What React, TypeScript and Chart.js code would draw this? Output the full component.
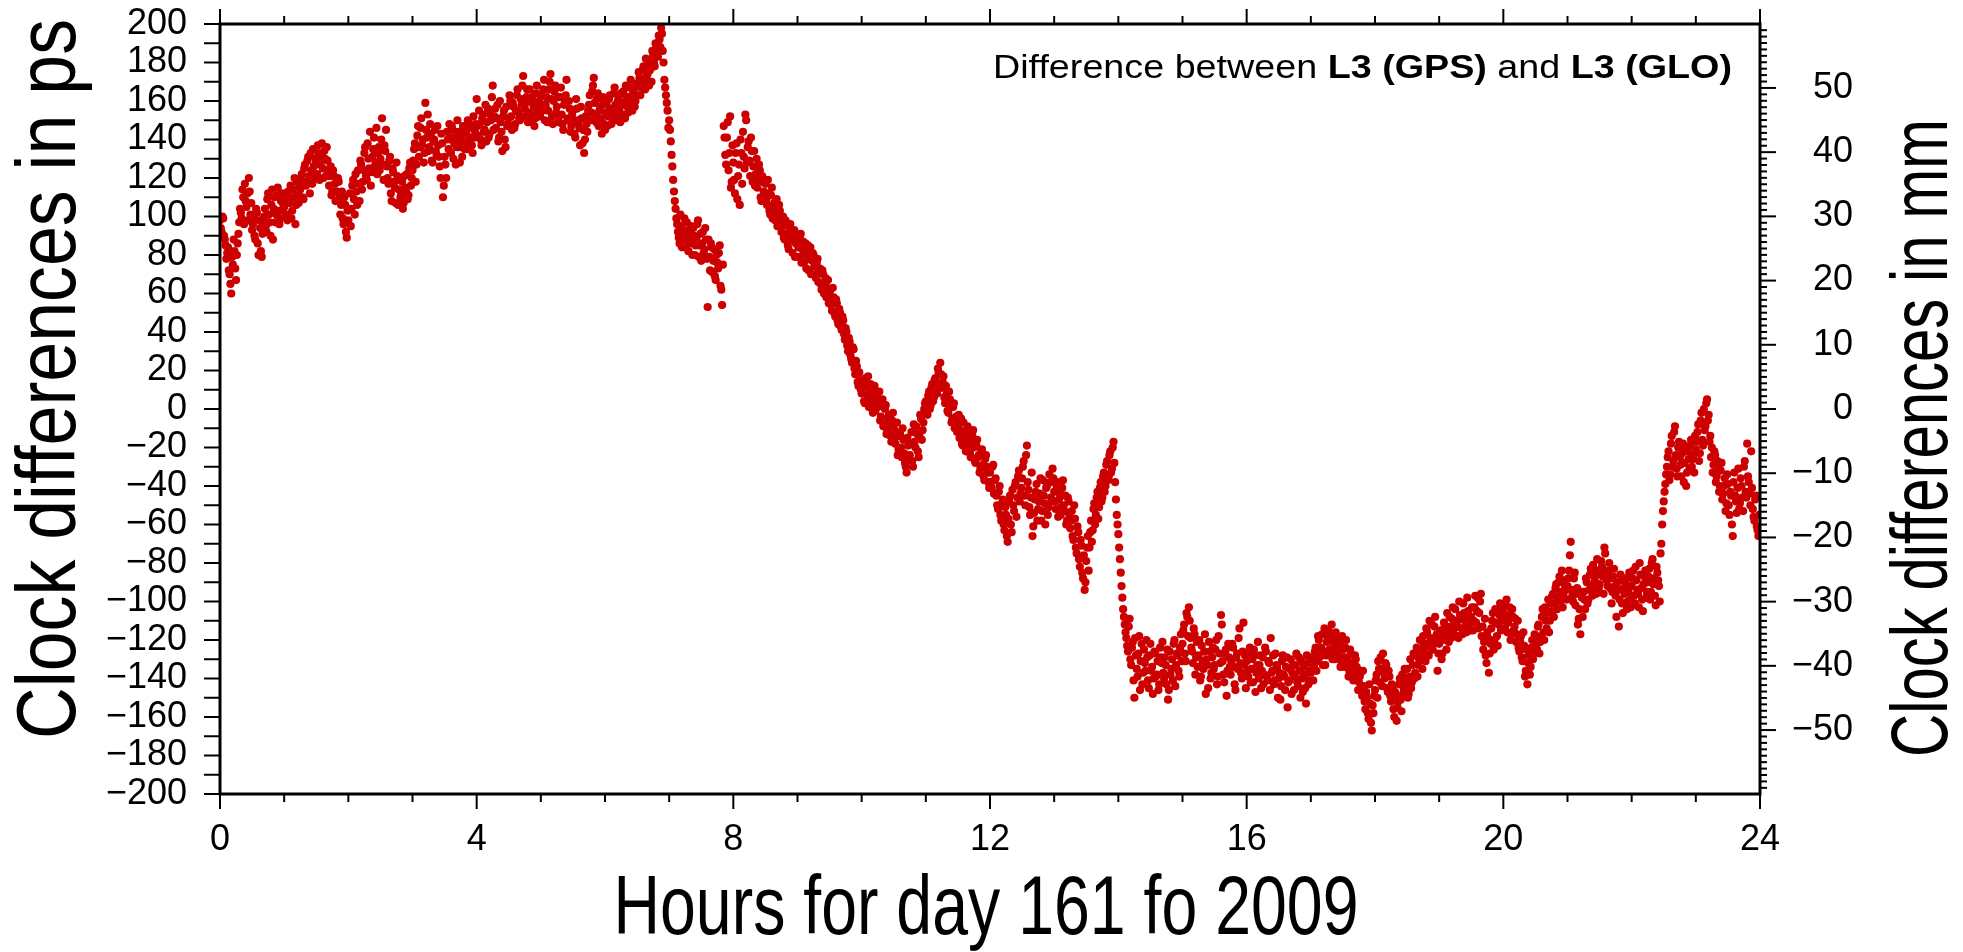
import React, { useEffect, useRef } from 'react';
import { Chart, registerables } from 'chart.js';

Chart.register(...registerables);

// Clock differences (ps). Two interleaved sample sets per hour (A at i/40 h, B at (i+0.5)/40 h).
const hour00 = [98, 92, 99, 88, 78, 84, 70, 60, 75, 82, 67, 86, 97, 102, 114, 96, 108, 112, 120, 101, 93, 99, 88, 102, 80, 94, 79, 97, 104, 92, 112, 97, 106, 88, 110, 101, 115, 96, 108, 103];
const hour01 = [105, 112, 98, 109, 116, 103, 110, 96, 118, 107, 114, 122, 109, 127, 118, 131, 112, 124, 135, 120, 128, 137, 119, 131, 125, 134, 121, 129, 116, 126, 113, 121, 108, 113, 118, 101, 113, 96, 106, 89];
const hour02 = [98, 112, 104, 119, 101, 113, 124, 108, 127, 118, 133, 121, 138, 125, 116, 131, 141, 128, 122, 136, 130, 151, 119, 134, 126, 117, 131, 108, 123, 115, 128, 106, 119, 112, 104, 121, 113, 109, 125, 116];
const hour03 = [124, 135, 118, 142, 131, 146, 137, 128, 159, 141, 134, 148, 129, 139, 145, 132, 137, 126, 143, 110, 131, 120, 140, 148, 133, 145, 138, 127, 150, 136, 142, 131, 146, 139, 135, 149, 141, 137, 152, 144];
const hour04 = [161, 142, 148, 137, 153, 145, 139, 156, 143, 150, 168, 152, 146, 158, 141, 149, 134, 155, 136, 147, 151, 160, 145, 157, 148, 163, 154, 150, 158, 173, 156, 162, 149, 166, 153, 159, 147, 164, 155, 160];
const hour05 = [163, 155, 171, 158, 149, 166, 174, 152, 160, 168, 157, 149, 162, 153, 145, 159, 171, 151, 156, 147, 155, 143, 161, 150, 146, 157, 138, 133, 152, 144, 158, 150, 165, 172, 153, 161, 147, 157, 143, 160];
const hour06 = [145, 158, 152, 163, 148, 155, 167, 150, 160, 156, 164, 153, 159, 168, 157, 162, 171, 155, 166, 160, 168, 175, 163, 170, 178, 166, 173, 181, 176, 170, 184, 178, 188, 183, 192, 198, 186, 171, 163, 155];
const hour07 = [150, 139, 126, 113, 104, 96, 89, 101, 84, 93, 88, 97, 82, 91, 86, 94, 80, 89, 98, 85, 77, 92, 83, 88, 53, 79, 86, 71, 83, 67, 76, 81, 64, 54, 147, 132, 141, 124, 152, 118];
const hour08 = [128, 112, 138, 121, 106, 133, 144, 125, 150, 136, 129, 141, 118, 134, 122, 115, 127, 110, 121, 113, 117, 106, 112, 101, 115, 104, 98, 109, 96, 103, 92, 100, 88, 97, 85, 94, 90, 81, 93, 86];
const hour09 = [88, 79, 91, 83, 76, 86, 81, 72, 84, 77, 80, 70, 76, 66, 73, 62, 70, 64, 58, 67, 60, 54, 63, 50, 57, 46, 52, 43, 48, 39, 42, 33, 37, 28, 24, 31, 18, 22, 12, 15];
const hour10 = [8, 14, 3, 11, 17, 5, 9, -2, 12, 6, 1, 9, -4, 5, -8, 2, -11, -3, -14, -6, -10, -18, -7, -21, -13, -25, -16, -28, -33, -19, -24, -12, -30, -17, -9, -22, -14, -5, -11, 0];
const hour11 = [4, -3, 9, 2, 13, 6, 16, 8, 19, 24, 11, 17, 3, 8, -2, 5, -7, 1, -10, -4, -8, -15, -5, -19, -12, -22, -9, -17, -25, -14, -20, -28, -16, -24, -31, -21, -35, -26, -30, -38];
const hour12 = [-33, -41, -29, -37, -45, -52, -40, -58, -47, -63, -55, -69, -48, -60, -42, -53, -38, -46, -32, -44, -36, -27, -50, -19, -42, -55, -33, -61, -47, -39, -52, -44, -58, -37, -49, -41, -55, -34, -46, -31];
const hour13 = [-43, -52, -38, -47, -55, -41, -50, -45, -58, -48, -62, -53, -68, -57, -75, -64, -82, -71, -88, -94, -79, -66, -72, -58, -63, -49, -55, -43, -51, -38, -46, -33, -40, -27, -35, -22, -31, -17, -38, -55];
const hour14 = [-65, -78, -92, -104, -112, -119, -126, -109, -133, -121, -150, -128, -139, -118, -131, -143, -125, -136, -129, -145, -122, -134, -140, -127, -138, -146, -124, -132, -137, -129, -143, -151, -126, -135, -141, -120, -133, -128, -139, -117];
const hour15 = [-122, -112, -131, -108, -103, -119, -126, -114, -138, -121, -128, -141, -123, -135, -117, -130, -145, -126, -137, -124, -133, -120, -139, -127, -107, -131, -142, -125, -136, -129, -138, -122, -134, -146, -127, -119, -132, -140, -111, -128];
const hour16 = [-131, -139, -124, -135, -142, -128, -137, -121, -133, -145, -129, -138, -126, -141, -132, -119, -136, -143, -127, -134, -140, -151, -131, -138, -146, -129, -142, -135, -148, -133, -139, -127, -144, -136, -131, -147, -138, -153, -132, -141];
const hour17 = [-137, -129, -134, -124, -131, -120, -128, -117, -126, -133, -121, -115, -127, -112, -124, -130, -119, -126, -122, -131, -125, -134, -120, -129, -136, -127, -132, -138, -130, -135, -142, -137, -149, -144, -156, -150, -161, -153, -167, -158];
const hour18 = [-146, -138, -131, -142, -135, -127, -140, -133, -147, -139, -152, -145, -160, -149, -155, -143, -151, -138, -146, -141, -135, -148, -130, -142, -127, -137, -124, -133, -120, -129, -118, -126, -114, -123, -110, -119, -125, -113, -120, -136];
const hour19 = [-122, -115, -127, -111, -118, -106, -121, -113, -109, -117, -104, -112, -119, -107, -114, -101, -110, -116, -105, -112, -108, -115, -103, -111, -98, -106, -96, -113, -121, -128, -116, -137, -122, -110, -125, -104, -118, -112, -101, -109];
const hour20 = [-106, -114, -99, -111, -103, -117, -108, -113, -121, -110, -126, -118, -131, -123, -136, -143, -128, -134, -120, -127, -119, -125, -112, -121, -108, -116, -103, -114, -99, -110, -105, -96, -101, -91, -98, -87, -95, -103, -89, -94];
const hour21 = [-92, -84, -69, -97, -88, -102, -93, -109, -117, -98, -95, -104, -90, -99, -86, -93, -81, -89, -96, -84, -91, -79, -87, -72, -85, -92, -80, -88, -95, -83, -97, -90, -113, -86, -101, -93, -88, -104, -95, -99];
const hour22 = [-92, -84, -101, -89, -96, -80, -93, -105, -87, -98, -90, -83, -95, -78, -88, -102, -85, -92, -75, -60, -48, -39, -30, -22, -34, -14, -27, -9, -31, -20, -25, -35, -18, -28, -40, -22, -31, -16, -26, -33];
const hour23 = [-21, -12, -27, -6, -16, 0, -9, 5, -3, -14, -20, -29, -24, -35, -31, -40, -28, -44, -36, -49, -39, -55, -45, -66, -33, -48, -41, -52, -36, -46, -30, -43, -18, -38, -50, -41, -56, -47, -61, -66];

const hour00B = [94, 100, 90, 85, 81, 72, 65, 79, 88, 73, 80, 91, 104, 99, 110, 117, 105, 98, 113, 107, 96, 90, 104, 86, 98, 82, 91, 100, 95, 109, 101, 90, 114, 104, 97, 111, 103, 99, 112, 106];
const hour01B = [110, 101, 113, 107, 99, 114, 120, 106, 111, 116, 119, 110, 125, 116, 129, 121, 133, 117, 126, 130, 122, 133, 127, 138, 120, 130, 136, 124, 121, 111, 124, 117, 113, 120, 110, 106, 99, 110, 92, 103];
const hour02B = [104, 95, 116, 109, 122, 106, 117, 129, 114, 124, 136, 119, 130, 144, 123, 135, 126, 146, 133, 124, 140, 127, 137, 145, 120, 129, 112, 125, 118, 107, 121, 114, 110, 118, 107, 115, 122, 111, 128, 120];
const hour03B = [129, 138, 127, 147, 136, 151, 140, 133, 145, 153, 136, 143, 128, 140, 134, 147, 131, 120, 138, 116, 127, 144, 135, 141, 147, 130, 141, 136, 144, 128, 139, 147, 135, 143, 150, 138, 146, 133, 141, 148];
const hour04B = [147, 155, 140, 151, 144, 158, 149, 141, 153, 162, 145, 156, 151, 139, 160, 144, 152, 140, 157, 148, 163, 152, 159, 146, 155, 166, 151, 161, 168, 152, 159, 166, 154, 150, 162, 157, 151, 168, 158, 152];
const hour05B = [158, 166, 150, 162, 155, 170, 161, 148, 165, 154, 162, 152, 167, 148, 158, 163, 150, 160, 144, 153, 150, 141, 156, 148, 137, 151, 145, 140, 148, 155, 163, 154, 168, 159, 149, 164, 155, 151, 162, 148];
const hour06B = [154, 147, 161, 156, 151, 164, 158, 153, 162, 149, 158, 165, 151, 162, 154, 167, 160, 164, 157, 169, 163, 172, 167, 176, 170, 182, 174, 168, 179, 186, 180, 190, 185, 194, 188, 195, 180, 167, 159, 146];
const hour07B = [145, 132, 119, 108, 99, 92, 86, 95, 90, 99, 84, 92, 87, 95, 80, 90, 85, 96, 79, 91, 86, 81, 94, 78, 88, 72, 84, 77, 69, 80, 73, 85, 62, 75, 141, 127, 149, 133, 115, 137];
const hour08B = [119, 133, 109, 127, 140, 117, 131, 153, 128, 139, 121, 134, 126, 116, 130, 119, 124, 108, 118, 112, 108, 119, 103, 111, 99, 107, 101, 95, 106, 98, 95, 89, 98, 91, 83, 96, 88, 92, 79, 89];
const hour09B = [84, 90, 76, 87, 80, 73, 85, 78, 70, 81, 74, 68, 78, 71, 65, 72, 60, 68, 63, 55, 62, 51, 58, 48, 55, 44, 50, 41, 46, 36, 40, 30, 35, 26, 32, 21, 25, 14, 19, 10];
const hour10B = [12, 4, 16, 7, 1, 13, 3, 10, -1, 7, 4, -6, 3, -9, 0, -13, -5, -9, -17, -2, -15, -12, -24, -14, -20, -10, -23, -30, -15, -26, -18, -27, -8, -20, -13, -25, -3, -16, -7, 3];
const hour11B = [-1, 7, 0, 11, 4, 15, 10, 21, 13, 18, 14, 6, 12, -1, 9, 2, -5, 3, -8, -12, -3, -11, -18, -7, -16, -20, -13, -23, -18, -11, -27, -19, -25, -33, -22, -29, -37, -24, -33, -41];
const hour12B = [-38, -30, -44, -36, -50, -43, -55, -49, -60, -51, -66, -57, -45, -64, -50, -40, -56, -35, -48, -41, -30, -45, -24, -38, -51, -46, -66, -54, -43, -58, -48, -36, -53, -45, -60, -40, -51, -38, -48, -36];
const hour13B = [-48, -40, -56, -44, -51, -37, -53, -60, -46, -55, -58, -66, -50, -72, -61, -78, -68, -85, -76, -90, -72, -84, -64, -69, -52, -60, -46, -57, -41, -48, -35, -43, -29, -37, -24, -33, -20, -28, -47, -60];
const hour14B = [-72, -85, -98, -108, -116, -123, -113, -130, -124, -141, -119, -135, -127, -146, -122, -137, -132, -120, -141, -128, -136, -148, -126, -139, -131, -143, -129, -121, -140, -133, -125, -146, -138, -130, -122, -144, -127, -136, -124, -131];
const hour15B = [-115, -127, -106, -118, -110, -124, -132, -117, -129, -134, -120, -139, -131, -126, -148, -133, -121, -140, -129, -135, -125, -143, -118, -132, -112, -138, -127, -149, -122, -134, -131, -124, -143, -129, -135, -114, -137, -126, -133, -145];
const hour16B = [-136, -127, -142, -130, -125, -147, -133, -140, -128, -136, -143, -124, -139, -131, -146, -137, -128, -141, -133, -150, -137, -144, -128, -139, -134, -155, -141, -130, -137, -146, -133, -142, -129, -150, -140, -134, -145, -128, -143, -136];
const hour17B = [-130, -141, -126, -136, -118, -129, -124, -133, -114, -128, -119, -125, -117, -130, -121, -116, -128, -123, -134, -118, -129, -124, -131, -139, -125, -133, -141, -128, -134, -146, -139, -145, -136, -152, -147, -158, -143, -163, -154, -149];
const hour18B = [-141, -150, -135, -129, -144, -137, -132, -145, -136, -149, -143, -156, -147, -162, -152, -140, -157, -148, -135, -144, -150, -139, -145, -133, -140, -128, -139, -130, -125, -135, -122, -131, -116, -128, -120, -112, -122, -108, -117, -127];
const hour19B = [-118, -130, -120, -113, -125, -116, -108, -119, -103, -114, -110, -118, -100, -109, -117, -106, -113, -98, -108, -115, -103, -110, -97, -105, -114, -100, -118, -125, -109, -132, -119, -127, -114, -106, -120, -111, -123, -107, -115, -104];
const hour20B = [-110, -102, -116, -107, -120, -104, -115, -109, -117, -124, -121, -129, -116, -139, -125, -132, -138, -124, -130, -117, -123, -113, -127, -118, -104, -120, -110, -106, -116, -101, -97, -108, -93, -104, -90, -100, -84, -97, -92, -99];
const hour21B = [-88, -76, -94, -100, -85, -96, -112, -104, -95, -108, -99, -88, -101, -94, -83, -97, -91, -86, -78, -93, -86, -82, -96, -75, -89, -84, -93, -101, -87, -92, -108, -94, -99, -89, -106, -96, -91, -100, -85, -103];
const hour22B = [-88, -97, -82, -94, -103, -86, -99, -91, -84, -95, -87, -99, -80, -91, -97, -82, -89, -100, -70, -53, -43, -34, -25, -37, -18, -30, -12, -24, -35, -17, -29, -23, -38, -21, -33, -26, -19, -30, -24, -14];
const hour23B = [-17, -8, -23, -2, -19, -11, 3, -6, -17, -25, -33, -22, -38, -27, -43, -32, -47, -40, -53, -34, -50, -43, -60, -38, -45, -54, -31, -49, -40, -53, -27, -46, -35, -44, -22, -52, -58, -45, -63, -55];

const seriesA = [hour00, hour01, hour02, hour03, hour04, hour05, hour06, hour07, hour08, hour09, hour10, hour11,
  hour12, hour13, hour14, hour15, hour16, hour17, hour18, hour19, hour20, hour21, hour22, hour23];
const seriesB = [hour00B, hour01B, hour02B, hour03B, hour04B, hour05B, hour06B, hour07B, hour08B, hour09B, hour10B, hour11B,
  hour12B, hour13B, hour14B, hour15B, hour16B, hour17B, hour18B, hour19B, hour20B, hour21B, hour22B, hour23B];

const xTickHours = [0, 4, 8, 12, 16, 20, 24];
const psTicks = [-200, -180, -160, -140, -120, -100, -80, -60, -40, -20, 0, 20, 40, 60, 80, 100, 120, 140, 160, 180, 200];
const mmTicks = [-50, -40, -30, -20, -10, 0, 10, 20, 30, 40, 50];
const PS_TO_MM = 0.299792458;

const TITLE_LEFT = 'Clock differences in ps';
const TITLE_RIGHT = 'Clock differences in mm';
const TITLE_BOTTOM = 'Hours for day 161 fo 2009';
const NOTE = [
  { text: 'Difference between ', bold: false },
  { text: 'L3 (GPS)', bold: true },
  { text: ' and ', bold: false },
  { text: 'L3 (GLO)', bold: true },
];

const FAMILY = "'Liberation Sans', Arial, Helvetica, sans-serif";
const fmt = (v: number) => (v < 0 ? '\u2212' + Math.abs(v) : String(v));

function drawFitted(ctx: CanvasRenderingContext2D, segs: { text: string; bold: boolean }[], size: number,
  target: number, x: number, y: number, angle: number, align: 'center' | 'right') {
  ctx.save();
  let W = 0;
  const widths = segs.map((s) => {
    ctx.font = `${s.bold ? 'bold ' : ''}${size}px ${FAMILY}`;
    const w = ctx.measureText(s.text).width;
    W += w;
    return w;
  });
  ctx.translate(x, y);
  ctx.rotate(angle);
  ctx.scale(target / W, 1);
  ctx.textAlign = 'left';
  ctx.textBaseline = 'alphabetic';
  ctx.fillStyle = '#000';
  let cur = align === 'center' ? -W / 2 : -W;
  segs.forEach((s, i) => {
    ctx.font = `${s.bold ? 'bold ' : ''}${size}px ${FAMILY}`;
    ctx.fillText(s.text, cur, 0);
    cur += widths[i];
  });
  ctx.restore();
}

const framePlugin = {
  id: 'frameTicks',
  afterDatasetsDraw(chart: any) {
    const { ctx, chartArea: a, scales } = chart;
    const xs = scales.x, ys = scales.y, y2 = scales.y2;
    const line = (x1: number, y1: number, x2: number, y2p: number) => {
      ctx.beginPath(); ctx.moveTo(x1, y1); ctx.lineTo(x2, y2p); ctx.stroke();
    };
    ctx.save();
    ctx.strokeStyle = '#000';
    ctx.lineWidth = 2;
    for (let h = 0; h <= 24; h++) {
      const px = xs.getPixelForValue(h);
      const len = xTickHours.includes(h) ? 15 : 8;
      line(px, a.bottom, px, a.bottom + len);
      line(px, a.top, px, a.top - len);
    }
    for (let v = -200; v <= 200; v += 10) {
      const py = ys.getPixelForValue(v);
      line(a.left - 16, py, a.left, py);
    }
    for (let m = -59; m <= 59; m++) {
      const py = y2.getPixelForValue(m);
      const len = m % 10 === 0 ? 16 : 7;
      line(a.right, py, a.right + len, py);
    }
    ctx.lineWidth = 3;
    ctx.strokeRect(a.left, a.top, a.right - a.left, a.bottom - a.top);
    ctx.restore();
  },
  afterDraw(chart: any) {
    const ctx = chart.ctx;
    drawFitted(ctx, [{ text: TITLE_LEFT, bold: false }], 84, 720, 75, 379, -Math.PI / 2, 'center');
    drawFitted(ctx, [{ text: TITLE_RIGHT, bold: false }], 80, 638, 1947, 438, -Math.PI / 2, 'center');
    drawFitted(ctx, [{ text: TITLE_BOTTOM, bold: false }], 84, 745, 986, 934, 0, 'center');
    drawFitted(ctx, NOTE, 33, 739, 1732, 78, 0, 'right');
  },
};

const zeroPad = (s: any) => { s.paddingTop = 0; s.paddingBottom = 0; s.paddingLeft = 0; s.paddingRight = 0; };

export default function App() {
  const ref = useRef<HTMLCanvasElement>(null);
  useEffect(() => {
    const toPoints = (series: number[][], shift: number) =>
      series.flatMap((arr, h) => arr.map((v, i) => ({ x: h + (i + shift) / arr.length, y: v })));
    const points = [...toPoints(seriesA, 0), ...toPoints(seriesB, 0.5)];
    const tickFont = { family: FAMILY, size: 36 };
    const chart = new Chart(ref.current as HTMLCanvasElement, {
      type: 'scatter',
      data: {
        datasets: [{
          data: points,
          pointRadius: 4.1,
          pointHoverRadius: 4.1,
          pointBackgroundColor: '#cc0000',
          pointBorderWidth: 0,
          backgroundColor: '#cc0000',
          borderColor: '#cc0000',
          yAxisID: 'y',
          xAxisID: 'x',
        }],
      },
      options: {
        animation: false,
        responsive: false,
        maintainAspectRatio: false,
        layout: { autoPadding: false, padding: { top: 24, left: 0, right: 110, bottom: 0 } },
        plugins: { legend: { display: false }, tooltip: { enabled: false }, title: { display: false } },
        scales: {
          x: {
            type: 'linear', position: 'bottom', min: 0, max: 24,
            afterBuildTicks: (s: any) => { s.ticks = xTickHours.map((v) => ({ value: v })); },
            afterFit: (s: any) => { s.height = 158; zeroPad(s); },
            grid: { display: false, drawTicks: false },
            border: { display: false },
            ticks: { font: tickFont, color: '#000', padding: 24, autoSkip: false, maxRotation: 0, minRotation: 0, callback: (v: any) => fmt(Number(v)) },
          },
          y: {
            type: 'linear', position: 'left', min: -200, max: 200,
            afterBuildTicks: (s: any) => { s.ticks = psTicks.map((v) => ({ value: v })); },
            afterFit: (s: any) => { s.width = 220; zeroPad(s); },
            grid: { display: false, drawTicks: false },
            border: { display: false },
            ticks: { font: tickFont, color: '#000', padding: 33, autoSkip: false, callback: (v: any) => fmt(Number(v)) },
          },
          y2: {
            type: 'linear', position: 'right', min: -200 * PS_TO_MM, max: 200 * PS_TO_MM,
            afterBuildTicks: (s: any) => { s.ticks = mmTicks.map((v) => ({ value: v })); },
            afterFit: (s: any) => { s.width = 93; zeroPad(s); },
            grid: { display: false, drawTicks: false },
            border: { display: false },
            ticks: { font: tickFont, color: '#000', padding: 32, crossAlign: 'far', autoSkip: false, callback: (v: any) => fmt(Number(v)) },
          },
        },
      } as any,
      plugins: [framePlugin],
    });
    return () => chart.destroy();
  }, []);
  return (
    <div style={{ position: 'absolute', left: 0, top: 0, width: 1963, height: 952, background: '#fff' }}>
      <canvas ref={ref} width={1963} height={952} style={{ width: 1963, height: 952, display: 'block' }} />
    </div>
  );
}
